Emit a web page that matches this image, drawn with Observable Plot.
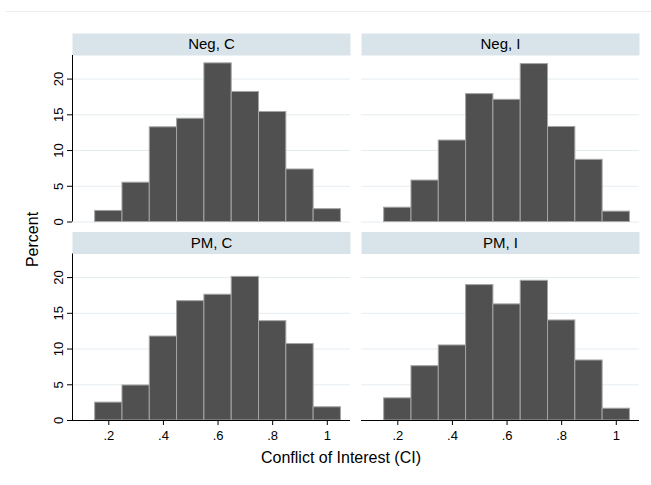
<!DOCTYPE html>
<html>
<head>
<meta charset="utf-8">
<script src="https://cdn.jsdelivr.net/npm/d3@7"></script>
<script src="https://cdn.jsdelivr.net/npm/@observablehq/plot@0.6"></script>
<style>
  html, body { margin: 0; padding: 0; background: #fff; }
  #chart { width: 651px; height: 485px; }
</style>
</head>
<body>
<div id="chart"></div>
<script>
// ---- data ----
const groups = ["Neg", "PM"];
const types = ["C", "I"];
const binStarts = [0.15, 0.25, 0.35, 0.45, 0.55, 0.65, 0.75, 0.85, 0.95];
const binWidth = 0.1;
const negC = [1.55, 5.5, 13.25, 14.45, 22.2, 18.2, 15.4, 7.35, 1.8];
const negI = [2.0, 5.8, 11.4, 17.9, 17.1, 22.1, 13.3, 8.7, 1.45];
const pmC  = [2.5, 4.9, 11.75, 16.7, 17.6, 20.1, 13.9, 10.7, 1.85];
const pmI  = [3.1, 7.6, 10.5, 18.95, 16.25, 19.55, 14.0, 8.4, 1.65];
const yTicks = [0, 5, 10, 15, 20];
const xTicks = [0.2, 0.4, 0.6, 0.8, 1];
const xDomain = [0.067, 1.085];
const yDomain = [0, 23.3];
const xTitle = "Conflict of Interest (CI)";
const yTitle = "Percent";

// ---- build table ----
const seriesMap = {"Neg|C": negC, "Neg|I": negI, "PM|C": pmC, "PM|I": pmI};
const rows = [];
const panels = [];
for (const g of groups) for (const t of types) {
  panels.push({group: g, type: t, label: `${g}, ${t}`});
  seriesMap[`${g}|${t}`].forEach((v, i) => {
    rows.push({group: g, type: t, x1: binStarts[i], x2: binStarts[i] + binWidth, pct: v});
  });
}
const yAxisLine = [{type: types[0], x: xDomain[0]}];
const xAxisLine = [{group: groups[1], y: 0}];

const fmtX = d => d === 1 ? "1" : d3.format(".1f")(d).replace(/^0/, "");

const W = 651, H = 485;
const mL = 72, mR = 12, mT = 55, mB = 65;
const gapX = 11, gapY = 32;
const bw = (W - mL - mR - gapX) / 2, bh = (H - mT - mB - gapY) / 2;

const plot = Plot.plot({
  width: W, height: H,
  marginLeft: mL, marginRight: mR, marginTop: mT, marginBottom: mB,
  style: {fontFamily: "'Liberation Sans', Arial, sans-serif", fontSize: "13px", background: "#fff", color: "#000", overflow: "visible"},
  x: {domain: xDomain, label: null},
  y: {domain: yDomain, label: null},
  fx: {domain: types, paddingInner: gapX / (bw + gapX), paddingOuter: 0, round: false, axis: null},
  fy: {domain: groups, paddingInner: gapY / (bh + gapY), paddingOuter: 0, round: false, axis: null},
  marks: [
    Plot.frame({fill: "#d9e4ea", stroke: null, insetTop: -22, insetBottom: bh}),
    Plot.text(panels, {fx: "type", fy: "group", text: "label", frameAnchor: "top", dy: -11, lineAnchor: "middle", fontSize: 15, fill: "#000"}),
    Plot.gridY(yTicks, {stroke: "#e4ecf0", strokeOpacity: 1, strokeWidth: 1}),
    Plot.rectY(rows, {fx: "type", fy: "group", x1: "x1", x2: "x2", y: "pct", fill: "#505050", stroke: "#a4a4a4", strokeWidth: 1, inset: 0}),
    Plot.ruleX(yAxisLine, {fx: "type", x: "x", stroke: "#000", strokeWidth: 1}),
    Plot.ruleY(xAxisLine, {fy: "group", y: "y", stroke: "#000", strokeWidth: 1}),
    Plot.axisY({ticks: yTicks, tickRotate: -90, tickSize: 5, tickPadding: 5, label: null, fontSize: 13}),
    Plot.axisX({ticks: xTicks, tickSize: 5, tickPadding: 5, tickFormat: fmtX, label: null, fontSize: 13})
  ]
});

const svg = d3.select(plot);
svg.insert("line", ":first-child")
  .attr("x1", 6).attr("x2", W).attr("y1", 11.5).attr("y2", 11.5)
  .attr("stroke", "#ececec").attr("stroke-width", 1);
svg.append("text")
  .attr("x", 341).attr("y", 459)
  .attr("text-anchor", "middle").attr("dominant-baseline", "middle")
  .attr("font-size", 16).attr("fill", "#000")
  .text(xTitle);
svg.append("text")
  .attr("transform", `translate(34,${(mT + H - mB) / 2 + 2}) rotate(-90)`)
  .attr("text-anchor", "middle").attr("dominant-baseline", "middle")
  .attr("font-size", 16).attr("fill", "#000")
  .text(yTitle);

document.getElementById("chart").append(plot);
</script>
</body>
</html>
